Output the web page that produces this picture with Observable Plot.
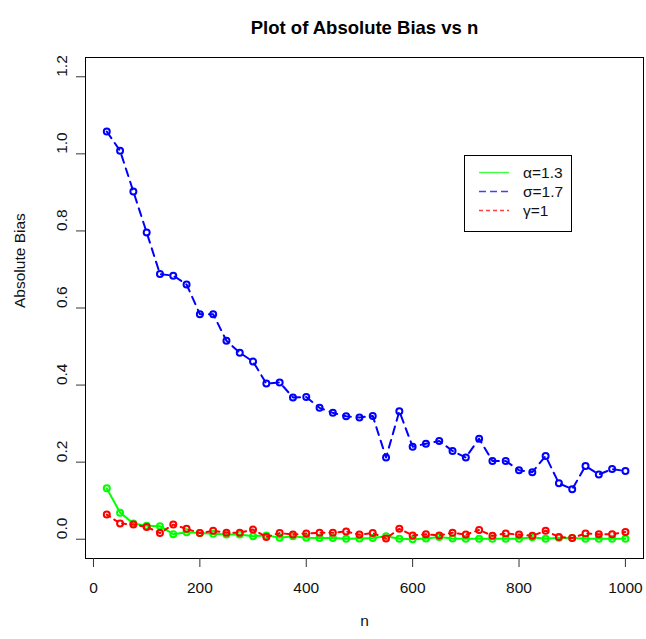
<!DOCTYPE html>
<html>
<head>
<meta charset="utf-8">
<script src="https://cdn.jsdelivr.net/npm/d3@7"></script>
<script src="https://cdn.jsdelivr.net/npm/@observablehq/plot@0.6"></script>
<style>
  html, body { margin: 0; padding: 0; background: #fff; }
  svg { font-family: "Liberation Sans", Arial, sans-serif; }
</style>
</head>
<body>
<div id="chart"></div>
<script>
// Sample sizes
const sampleSizes = [25, 50, 75, 100, 125, 150, 175, 200, 225, 250,
  275, 300, 325, 350, 375, 400, 425, 450, 475, 500,
  525, 550, 575, 600, 625, 650, 675, 700, 725, 750,
  775, 800, 825, 850, 875, 900, 925, 950, 975, 1000];

// Absolute bias of each parameter estimate
const biasAlpha = [0.132, 0.069, 0.041, 0.035, 0.034, 0.013, 0.018, 0.016, 0.014, 0.012,
  0.012, 0.008, 0.010, 0.004, 0.008, 0.004, 0.003, 0.003, 0.001, 0.002,
  0.003, 0.008, 0.001, 0.000, 0.002, 0.006, 0.002, 0.001, 0.001, 0.001,
  0.001, 0.001, 0.005, 0.001, 0.004, 0.003, 0.001, 0.001, 0.001, 0.001];
const biasSigma = [1.058, 1.008, 0.902, 0.796, 0.688, 0.684, 0.661, 0.584, 0.584, 0.515,
  0.484, 0.461, 0.404, 0.407, 0.368, 0.369, 0.341, 0.328, 0.319, 0.316,
  0.320, 0.212, 0.332, 0.240, 0.248, 0.255, 0.229, 0.212, 0.261, 0.203,
  0.203, 0.179, 0.174, 0.216, 0.145, 0.130, 0.190, 0.168, 0.182, 0.177];
const biasGamma = [0.064, 0.041, 0.038, 0.032, 0.016, 0.038, 0.027, 0.016, 0.022, 0.017,
  0.017, 0.025, 0.006, 0.016, 0.012, 0.015, 0.017, 0.017, 0.020, 0.012,
  0.016, 0.002, 0.027, 0.010, 0.013, 0.010, 0.017, 0.012, 0.024, 0.009,
  0.015, 0.012, 0.009, 0.022, 0.006, 0.003, 0.015, 0.013, 0.013, 0.019];

// Series names, colours and dash patterns
const seriesNames = ["α=1.3", "σ=1.7", "γ=1"];
const seriesColors = ["#00ff00", "#0000ff", "#ff0000"];
const seriesDash = [null, "8,6", "4,5"];
const legendDash = [null, "7,4", "4,3"];

// Axis ticks
const xTicks = [0, 200, 400, 600, 800, 1000];
const yTicks = [0.0, 0.2, 0.4, 0.6, 0.8, 1.0, 1.2];

const titleText = "Plot of Absolute Bias vs n";
const xLabel = "n";
const yLabel = "Absolute Bias";

const seriesValues = [biasAlpha, biasSigma, biasGamma];
const toRows = (vals) => sampleSizes.map((n, i) => ({n, v: vals[i]}));

// drawing order: alpha, sigma, gamma
const seriesMarks = [];
[0, 1, 2].forEach(k => {
  const rows = toRows(seriesValues[k]);
  seriesMarks.push(
    Plot.line(rows, {x: "n", y: "v", stroke: seriesColors[k], strokeWidth: 2,
      strokeDasharray: seriesDash[k] ?? undefined}),
    Plot.dot(rows, {x: "n", y: "v", r: 3, stroke: seriesColors[k], strokeWidth: 2, fill: "none"})
  );
});

const chart = Plot.plot({
  width: 646,
  height: 639,
  marginLeft: 85,
  marginRight: 3,
  marginTop: 57,
  marginBottom: 81,
  style: {fontFamily: "'Liberation Sans', Arial, sans-serif", background: "#fff"},
  x: {domain: [-15, 1034]},
  y: {domain: [-0.05, 1.25]},
  marks: [
    ...seriesMarks,
    Plot.frame({stroke: "black", strokeWidth: 1}),
    Plot.axisX({ticks: xTicks, tickSize: 9, tickFormat: () => "", label: null, stroke: "#333"}),
    Plot.axisY({ticks: yTicks, tickSize: 9, tickFormat: () => "", label: null, stroke: "#333"}),
    // tick labels
    Plot.text(xTicks, {x: d => d, frameAnchor: "bottom", dy: 34, text: d => String(d),
      fontSize: 15.5, fill: "#111"}),
    Plot.text(yTicks, {y: d => d, frameAnchor: "left", dx: -23, rotate: -90,
      text: d => d.toFixed(1), fontSize: 15.5, fill: "#111"}),
    // title and axis titles
    Plot.text([titleText], {frameAnchor: "top", dy: -37, text: d => d, fontSize: 18.5,
      fontWeight: "bold", fill: "#000"}),
    Plot.text([xLabel], {frameAnchor: "bottom", dy: 67, text: d => d, fontSize: 15.5, fill: "#111"}),
    Plot.text([yLabel], {frameAnchor: "left", dx: -65, rotate: -90, text: d => d,
      fontSize: 15.5, fill: "#111"})
  ]
});

document.getElementById("chart").appendChild(chart);

// Legend box in the upper right of the panel
const svg = d3.select(chart);
const lg = svg.append("g").attr("class", "legend").attr("text-anchor", "start");
lg.append("rect")
  .attr("x", 464.5).attr("y", 155.5).attr("width", 107).attr("height", 76)
  .attr("fill", "#fff").attr("stroke", "#000").attr("stroke-width", 1);
const rowY = [172.5, 191.5, 210.5];
seriesNames.forEach((name, k) => {
  lg.append("line")
    .attr("x1", 479).attr("x2", 509).attr("y1", rowY[k]).attr("y2", rowY[k])
    .attr("stroke", seriesColors[k]).attr("stroke-width", 1.4)
    .attr("stroke-opacity", 0.75)
    .attr("stroke-dasharray", legendDash[k]);
  lg.append("text")
    .attr("x", 523).attr("y", rowY[k]).attr("dy", "0.35em")
    .attr("text-anchor", "start")
    .attr("font-size", 15.5).attr("fill", "#111")
    .text(name);
});
</script>
</body>
</html>
